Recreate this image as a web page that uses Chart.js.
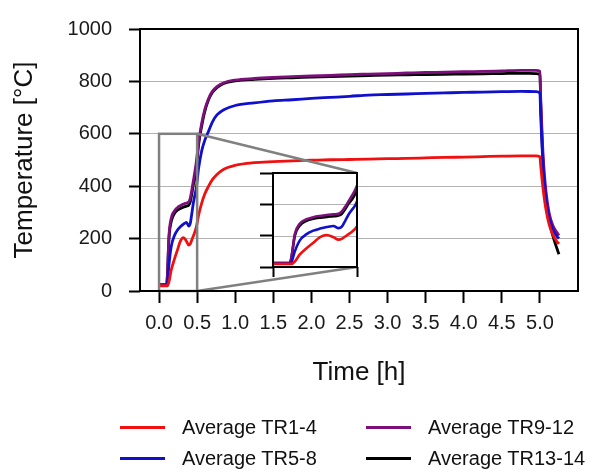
<!DOCTYPE html>
<html>
<head>
<meta charset="utf-8">
<script src="https://cdn.jsdelivr.net/npm/chart.js@4.4.1/dist/chart.umd.min.js"></script>
<style>
html, body { margin: 0; padding: 0; background: #fff; }
#wrap { position: relative; width: 596px; height: 473px; overflow: hidden; }
#main { position: absolute; left: 0; top: 0; }
#inset { position: absolute; left: 250px; top: 160px; }
.leg { position: absolute; height: 24px; display: flex; align-items: center;
       font: 20px "Liberation Sans", Arial, sans-serif; color: #111; white-space: nowrap; }
.leg .sw { display: inline-block; width: 45px; height: 3px; margin-right: 17px; }
</style>
</head>
<body>
<div id="wrap">
  <canvas id="main" width="596" height="473"></canvas>
  <canvas id="inset" width="112" height="120"></canvas>
</div>
<script>
// time axis [h]
const timeH = [0, 0.05, 0.1, 0.11, 0.13, 0.16, 0.2, 0.24, 0.28, 0.32,
  0.36, 0.39, 0.41, 0.43, 0.45, 0.47, 0.49, 0.52, 0.56, 0.6,
  0.65, 0.7, 0.76, 0.85, 1.0, 1.25, 1.5, 1.75, 2.0, 2.25,
  2.5, 2.75, 3.0, 3.25, 3.5, 3.75, 4.0, 4.25, 4.5, 4.75,
  4.95, 5.0, 5.01, 5.03, 5.05, 5.08, 5.12, 5.17, 5.22, 5.25];

// temperatures [°C]
const tr1_4 = [20, 20, 20, 20, 35, 80, 120, 155, 190, 204,
  190, 175, 180, 195, 210, 225, 245, 290, 335, 370,
  400, 425, 445, 465, 480, 490, 494, 497, 499, 501,
  502, 503, 505, 506, 508, 510, 511, 513, 515, 516,
  516, 512, 480, 420, 370, 310, 255, 215, 190, 180];
const tr5_8 = [22, 22, 22, 30, 100, 170, 210, 232, 245, 255,
  262, 248, 258, 295, 335, 365, 395, 470, 535, 575,
  610, 645, 672, 692, 708, 718, 726, 730, 735, 739,
  743, 748, 750, 752, 754, 756, 758, 759, 761, 762,
  761, 755, 670, 540, 440, 350, 280, 235, 210, 200];
const tr9_12 = [25, 25, 25, 65, 210, 278, 305, 318, 326, 332,
  336, 340, 355, 385, 420, 455, 495, 570, 640, 692,
  735, 762, 780, 795, 805, 811, 815, 818, 821, 823,
  826, 828, 830, 832, 834, 835, 837, 838, 840, 842,
  842, 838, 740, 590, 480, 380, 300, 250, 225, 212];
const tr13_14 = [25, 25, 25, 60, 200, 265, 295, 308, 315, 320,
  324, 328, 340, 370, 405, 430, 470, 560, 630, 685,
  730, 758, 776, 792, 802, 808, 812, 814, 816, 818,
  820, 822, 824, 825, 826, 827, 828, 829, 830, 831,
  830, 826, 720, 560, 450, 350, 270, 210, 165, 140];

const seriesNames = ['Average TR1-4', 'Average TR5-8', 'Average TR9-12', 'Average TR13-14'];
const seriesData = [tr1_4, tr5_8, tr9_12, tr13_14];
const seriesColors = ['#f01010', '#1010cc', '#7d0f7d', '#000000'];

const xTicks = [0, 0.5, 1, 1.5, 2, 2.5, 3, 3.5, 4, 4.5, 5];
const yTicks = [0, 200, 400, 600, 800, 1000];
// zoomed window shown in the inset
const zoomX = [0, 0.5];
const zoomY = [0, 600];
const insetYTicks = [0, 200, 400, 600];

const FONT = '"Liberation Sans", Arial, sans-serif';

const makeDatasets = (lw) => seriesData.map((arr, i) => ({
  label: seriesNames[i],
  data: arr.map((v, k) => ({ x: timeH[k], y: v })),
  borderColor: seriesColors[i],
  borderWidth: lw,
  pointRadius: 0,
  cubicInterpolationMode: 'monotone',
  fill: false
}));

// inset first, main chart needs its corners
const insetChart = new Chart(document.getElementById('inset'), {
  type: 'line',
  data: { datasets: makeDatasets(2.6) },
  options: {
    responsive: false, animation: false, devicePixelRatio: 1,
    layout: { padding: { top: 13, right: 5, left: 0, bottom: 0 } },
    plugins: { legend: { display: false }, tooltip: { enabled: false } },
    scales: {
      x: {
        type: 'linear', min: zoomX[0], max: zoomX[1],
        afterBuildTicks: s => { s.ticks = zoomX.map(v => ({ value: v })); },
        afterFit: s => { s.height = 13; },
        ticks: { display: false },
        border: { display: false },
        grid: { drawOnChartArea: false, tickLength: 10, tickWidth: 2, tickColor: '#000' }
      },
      y: {
        min: zoomY[0], max: zoomY[1],
        afterBuildTicks: s => { s.ticks = insetYTicks.map(v => ({ value: v })); },
        afterFit: s => { s.width = 23; },
        ticks: { display: false },
        border: { display: false },
        grid: { color: '#b3b3b3', lineWidth: 1, tickLength: 13, tickWidth: 2, tickColor: '#000' }
      }
    }
  },
  plugins: [{
    id: 'insetBox',
    beforeDatasetsDraw(chart) {
      const a = chart.chartArea, ctx = chart.ctx;
      ctx.save();
      ctx.fillStyle = '#fff';
      ctx.fillRect(a.left, a.top, a.right - a.left, a.bottom - a.top);
      // redraw inner grid over the white fill
      const y = chart.scales.y;
      ctx.strokeStyle = '#b3b3b3';
      ctx.lineWidth = 1;
      insetYTicks.forEach(v => {
        const p = Math.round(y.getPixelForValue(v)) + 0.5;
        ctx.beginPath(); ctx.moveTo(a.left, p); ctx.lineTo(a.right, p); ctx.stroke();
      });
      ctx.restore();
    },
    afterDraw(chart) {
      const a = chart.chartArea, ctx = chart.ctx;
      ctx.save();
      ctx.strokeStyle = '#000';
      ctx.lineWidth = 2;
      ctx.strokeRect(a.left, a.top, a.right - a.left, a.bottom - a.top);
      ctx.restore();
    }
  }]
});

const insetEl = document.getElementById('inset');
const insetLeft = insetEl.offsetLeft, insetTop = insetEl.offsetTop;

new Chart(document.getElementById('main'), {
  type: 'line',
  data: { datasets: makeDatasets(2.8) },
  options: {
    responsive: false, animation: false, devicePixelRatio: 1,
    layout: { padding: { top: 19, right: 18, left: 0, bottom: 0 } },
    plugins: { legend: { display: false }, tooltip: { enabled: false } },
    scales: {
      x: {
        type: 'linear', min: -0.25, max: 5.5,
        afterBuildTicks: s => { s.ticks = xTicks.map(v => ({ value: v })); },
        afterFit: s => { s.height = 182; },
        border: { display: false },
        grid: { drawOnChartArea: false, tickLength: 12, tickWidth: 2, tickColor: '#000' },
        ticks: { font: { family: FONT, size: 20 }, color: '#1a1a1a', padding: 8,
                 maxRotation: 0, autoSkip: false, callback: v => v.toFixed(1) },
        title: { display: true, text: 'Time [h]', color: '#111',
                 font: { family: FONT, size: 26 }, padding: { top: 0, bottom: 85 } }
      },
      y: {
        min: 0, max: 1000,
        afterBuildTicks: s => { s.ticks = yTicks.map(v => ({ value: v })); },
        afterFit: s => { s.width = 140; },
        border: { display: false },
        grid: { color: '#b3b3b3', lineWidth: 1, tickLength: 11, tickWidth: 2, tickColor: '#000' },
        ticks: { font: { family: FONT, size: 20 }, color: '#1a1a1a', padding: 17,
                 callback: v => String(v) },
        title: { display: true, text: 'Temperature [°C]', color: '#111',
                 font: { family: FONT, size: 26 }, padding: { top: 9, bottom: 0 } }
      }
    }
  },
  plugins: [{
    id: 'zoomMarks',
    afterDatasetsDraw(chart) {
      const ctx = chart.ctx, x = chart.scales.x, y = chart.scales.y;
      const x0 = x.getPixelForValue(zoomX[0]), x1 = x.getPixelForValue(zoomX[1]);
      const y0 = y.getPixelForValue(zoomY[0]), y1 = y.getPixelForValue(zoomY[1]);
      const ia = insetChart.chartArea;
      ctx.save();
      ctx.strokeStyle = '#808080';
      ctx.lineWidth = 2.5;
      ctx.strokeRect(x0, y1, x1 - x0, y0 - y1);
      ctx.beginPath();
      ctx.moveTo(x1, y1); ctx.lineTo(insetLeft + ia.right, insetTop + ia.top);
      ctx.moveTo(x1, y0); ctx.lineTo(insetLeft + ia.right, insetTop + ia.bottom);
      ctx.stroke();
      ctx.restore();
    },
    afterDraw(chart) {
      const a = chart.chartArea, ctx = chart.ctx;
      ctx.save();
      ctx.strokeStyle = '#000';
      ctx.lineWidth = 2;
      ctx.strokeRect(a.left, a.top, a.right - a.left, a.bottom - a.top);
      ctx.restore();
    }
  }]
});

// legend: two columns, filled column by column
const legCols = [120, 366];
const legRows = [427, 458];
const wrap = document.getElementById('wrap');
seriesNames.forEach((name, i) => {
  const d = document.createElement('div');
  d.className = 'leg';
  d.style.left = legCols[Math.floor(i / 2)] + 'px';
  d.style.top = (legRows[i % 2] - 12) + 'px';
  const sw = document.createElement('span');
  sw.className = 'sw';
  sw.style.background = seriesColors[i];
  d.appendChild(sw);
  d.appendChild(document.createTextNode(name));
  wrap.appendChild(d);
});
</script>
</body>
</html>
